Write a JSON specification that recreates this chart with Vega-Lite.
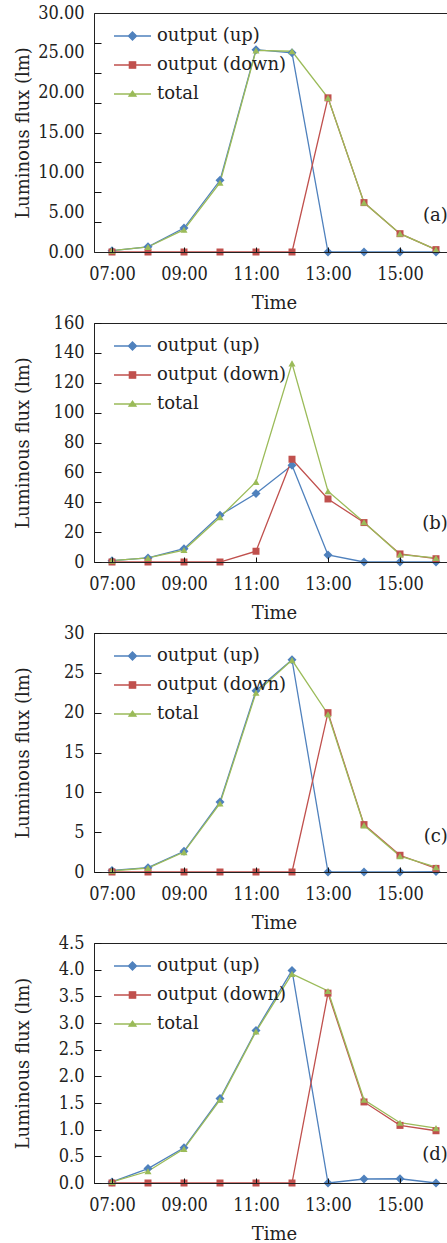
{
  "$schema": "https://vega.github.io/schema/vega-lite/v6.json",
  "autosize": {"type": "pad"},
  "padding": {"left": 13, "top": 3, "right": 0, "bottom": 0},
  "spacing": 0,
  "datasets": {
    "a": [
      {"time": 7, "series": "output (up)", "value": 0.17},
      {"time": 8, "series": "output (up)", "value": 0.65},
      {"time": 9, "series": "output (up)", "value": 3.0},
      {"time": 10, "series": "output (up)", "value": 9.0},
      {"time": 11, "series": "output (up)", "value": 25.4},
      {"time": 12, "series": "output (up)", "value": 25.0},
      {"time": 13, "series": "output (up)", "value": 0},
      {"time": 14, "series": "output (up)", "value": 0},
      {"time": 15, "series": "output (up)", "value": 0},
      {"time": 16, "series": "output (up)", "value": 0},
      {"time": 7, "series": "output (down)", "value": 0},
      {"time": 8, "series": "output (down)", "value": 0},
      {"time": 9, "series": "output (down)", "value": 0},
      {"time": 10, "series": "output (down)", "value": 0},
      {"time": 11, "series": "output (down)", "value": 0},
      {"time": 12, "series": "output (down)", "value": 0},
      {"time": 13, "series": "output (down)", "value": 19.35},
      {"time": 14, "series": "output (down)", "value": 6.2},
      {"time": 15, "series": "output (down)", "value": 2.3},
      {"time": 16, "series": "output (down)", "value": 0.3},
      {"time": 7, "series": "total", "value": 0.17},
      {"time": 8, "series": "total", "value": 0.63},
      {"time": 9, "series": "total", "value": 2.8},
      {"time": 10, "series": "total", "value": 8.7},
      {"time": 11, "series": "total", "value": 25.3},
      {"time": 12, "series": "total", "value": 25.2},
      {"time": 13, "series": "total", "value": 19.35},
      {"time": 14, "series": "total", "value": 6.2},
      {"time": 15, "series": "total", "value": 2.3},
      {"time": 16, "series": "total", "value": 0.3}
    ],
    "b": [
      {"time": 7, "series": "output (up)", "value": 0.9},
      {"time": 8, "series": "output (up)", "value": 2.7},
      {"time": 9, "series": "output (up)", "value": 8.9},
      {"time": 10, "series": "output (up)", "value": 31.3},
      {"time": 11, "series": "output (up)", "value": 45.8},
      {"time": 12, "series": "output (up)", "value": 64.8},
      {"time": 13, "series": "output (up)", "value": 4.7},
      {"time": 14, "series": "output (up)", "value": 0},
      {"time": 15, "series": "output (up)", "value": 0},
      {"time": 16, "series": "output (up)", "value": 0},
      {"time": 7, "series": "output (down)", "value": 0},
      {"time": 8, "series": "output (down)", "value": 0},
      {"time": 9, "series": "output (down)", "value": 0},
      {"time": 10, "series": "output (down)", "value": 0},
      {"time": 11, "series": "output (down)", "value": 7.2},
      {"time": 12, "series": "output (down)", "value": 68.8},
      {"time": 13, "series": "output (down)", "value": 42.2},
      {"time": 14, "series": "output (down)", "value": 26.4},
      {"time": 15, "series": "output (down)", "value": 5.4},
      {"time": 16, "series": "output (down)", "value": 2.2},
      {"time": 7, "series": "total", "value": 0.9},
      {"time": 8, "series": "total", "value": 2.7},
      {"time": 9, "series": "total", "value": 8.0},
      {"time": 10, "series": "total", "value": 30.0},
      {"time": 11, "series": "total", "value": 53.6},
      {"time": 12, "series": "total", "value": 133.0},
      {"time": 13, "series": "total", "value": 47.4},
      {"time": 14, "series": "total", "value": 26.6},
      {"time": 15, "series": "total", "value": 5.0},
      {"time": 16, "series": "total", "value": 2.7}
    ],
    "c": [
      {"time": 7, "series": "output (up)", "value": 0.2},
      {"time": 8, "series": "output (up)", "value": 0.54},
      {"time": 9, "series": "output (up)", "value": 2.6},
      {"time": 10, "series": "output (up)", "value": 8.8},
      {"time": 11, "series": "output (up)", "value": 22.76},
      {"time": 12, "series": "output (up)", "value": 26.65},
      {"time": 13, "series": "output (up)", "value": 0},
      {"time": 14, "series": "output (up)", "value": 0},
      {"time": 15, "series": "output (up)", "value": 0},
      {"time": 16, "series": "output (up)", "value": 0.05},
      {"time": 7, "series": "output (down)", "value": 0},
      {"time": 8, "series": "output (down)", "value": 0},
      {"time": 9, "series": "output (down)", "value": 0},
      {"time": 10, "series": "output (down)", "value": 0},
      {"time": 11, "series": "output (down)", "value": 0},
      {"time": 12, "series": "output (down)", "value": 0},
      {"time": 13, "series": "output (down)", "value": 20.0},
      {"time": 14, "series": "output (down)", "value": 5.95},
      {"time": 15, "series": "output (down)", "value": 2.1},
      {"time": 16, "series": "output (down)", "value": 0.45},
      {"time": 7, "series": "total", "value": 0.15},
      {"time": 8, "series": "total", "value": 0.5},
      {"time": 9, "series": "total", "value": 2.5},
      {"time": 10, "series": "total", "value": 8.6},
      {"time": 11, "series": "total", "value": 22.5},
      {"time": 12, "series": "total", "value": 26.6},
      {"time": 13, "series": "total", "value": 19.8},
      {"time": 14, "series": "total", "value": 5.86},
      {"time": 15, "series": "total", "value": 2.0},
      {"time": 16, "series": "total", "value": 0.6}
    ],
    "d": [
      {"time": 7, "series": "output (up)", "value": 0.02},
      {"time": 8, "series": "output (up)", "value": 0.27},
      {"time": 9, "series": "output (up)", "value": 0.66},
      {"time": 10, "series": "output (up)", "value": 1.585},
      {"time": 11, "series": "output (up)", "value": 2.86},
      {"time": 12, "series": "output (up)", "value": 3.985},
      {"time": 13, "series": "output (up)", "value": 0},
      {"time": 14, "series": "output (up)", "value": 0.075},
      {"time": 15, "series": "output (up)", "value": 0.08},
      {"time": 16, "series": "output (up)", "value": 0},
      {"time": 7, "series": "output (down)", "value": 0},
      {"time": 8, "series": "output (down)", "value": 0},
      {"time": 9, "series": "output (down)", "value": 0},
      {"time": 10, "series": "output (down)", "value": 0},
      {"time": 11, "series": "output (down)", "value": 0},
      {"time": 12, "series": "output (down)", "value": 0},
      {"time": 13, "series": "output (down)", "value": 3.56},
      {"time": 14, "series": "output (down)", "value": 1.52},
      {"time": 15, "series": "output (down)", "value": 1.08},
      {"time": 16, "series": "output (down)", "value": 0.98},
      {"time": 7, "series": "total", "value": 0.02},
      {"time": 8, "series": "total", "value": 0.22},
      {"time": 9, "series": "total", "value": 0.64},
      {"time": 10, "series": "total", "value": 1.56},
      {"time": 11, "series": "total", "value": 2.84},
      {"time": 12, "series": "total", "value": 3.92},
      {"time": 13, "series": "total", "value": 3.6},
      {"time": 14, "series": "total", "value": 1.56},
      {"time": 15, "series": "total", "value": 1.13},
      {"time": 16, "series": "total", "value": 1.03}
    ]
  },
  "vconcat": [
    {
      "width": 360, "height": 239,
      "data": {"name": "a"},
      "resolve": {"axis": {"y": "independent"}},
      "layer": [
        {
          "mark": {"type": "line", "strokeWidth": 1.3},
          "encoding": {
            "x": {"field": "time", "type": "quantitative", "scale": {"domain": [6.5, 16.5], "nice": false}, "axis": {"title": "Time", "values": [7, 9, 11, 13, 15], "labelExpr": "(datum.value < 10 ? '0' : '') + datum.value + ':00'", "tickSize": -5, "labelPadding": 18, "titlePadding": 11, "zindex": 1}},
            "y": {"field": "value", "type": "quantitative", "scale": {"domain": [0, 30], "nice": false}, "axis": {"title": "Luminous flux (lm)", "values": [0, 5, 10, 15, 20, 25, 30], "format": ".2f", "ticks": false, "labelPadding": 10, "labelOverlap": false}},
            "color": {"field": "series", "type": "nominal", "scale": {"domain": ["output (up)", "output (down)", "total"], "range": ["#4F81BD", "#C0504D", "#9BBB59"]},
              "legend": {"title": null, "rowPadding": -10, "encode": {"symbols": {"update": {
                "shape": {"signal": "datum.value === 'output (up)' ? 'M-1,0H1M0,-0.22L0.22,0L0,0.22L-0.22,0Z' : datum.value === 'output (down)' ? 'M-1,0H1M-0.17,-0.17H0.17V0.17H-0.17Z' : 'M-1,0H1M0,-0.16L0.19,0.12L-0.19,0.12Z'"},
                "size": {"value": 1369},
                "fill": {"signal": "datum.value === 'output (up)' ? '#4F81BD' : datum.value === 'output (down)' ? '#C0504D' : '#9BBB59'"},
                "stroke": {"signal": "datum.value === 'output (up)' ? '#4F81BD' : datum.value === 'output (down)' ? '#C0504D' : '#9BBB59'"},
                "strokeWidth": {"value": 1.3}, "opacity": {"value": 1}, "fillOpacity": {"value": 1}, "strokeOpacity": {"value": 1}}}}}}
          }
        },
        {
          "transform": [{"filter": "datum.series === 'output (up)'"}],
          "mark": {"type": "point", "filled": true, "opacity": 1, "shape": "diamond", "size": 81, "color": "#4F81BD"},
          "encoding": {"x": {"field": "time", "type": "quantitative"}, "y": {"field": "value", "type": "quantitative", "axis": null}}
        },
        {
          "transform": [{"filter": "datum.series === 'output (down)'"}],
          "mark": {"type": "point", "filled": true, "opacity": 1, "shape": "square", "size": 49, "color": "#C0504D"},
          "encoding": {"x": {"field": "time", "type": "quantitative"}, "y": {"field": "value", "type": "quantitative", "axis": null}}
        },
        {
          "transform": [{"filter": "datum.series === 'total'"}],
          "mark": {"type": "point", "filled": true, "opacity": 1, "shape": "triangle-up", "size": 50, "color": "#9BBB59"},
          "encoding": {"x": {"field": "time", "type": "quantitative"}, "y": {"field": "value", "type": "quantitative", "axis": null}}
        },
        {
          "data": {"values": [{"label": "(a)"}]},
          "mark": {"type": "text", "align": "right", "baseline": "middle"},
          "encoding": {
            "x": {"datum": 16.33, "type": "quantitative"},
            "y": {"datum": 4.5, "type": "quantitative", "axis": {"orient": "left", "title": null, "values": [3.75, 7.5, 11.25, 15, 18.75, 22.5, 26.25], "labels": false, "domain": false, "tickSize": -7, "zindex": 1}},
            "text": {"field": "label"}
          }
        }
      ]
    },
    {
      "width": 360, "height": 239,
      "data": {"name": "b"},
      "resolve": {"axis": {"y": "independent"}},
      "layer": [
        {
          "mark": {"type": "line", "strokeWidth": 1.3},
          "encoding": {
            "x": {"field": "time", "type": "quantitative", "scale": {"domain": [6.5, 16.5], "nice": false}, "axis": {"title": "Time", "values": [7, 9, 11, 13, 15], "labelExpr": "(datum.value < 10 ? '0' : '') + datum.value + ':00'", "tickSize": -5, "labelPadding": 18, "titlePadding": 11, "zindex": 1}},
            "y": {"field": "value", "type": "quantitative", "scale": {"domain": [0, 160], "nice": false}, "axis": {"title": "Luminous flux (lm)", "values": [0, 20, 40, 60, 80, 100, 120, 140, 160], "format": "d", "tickSize": -7, "labelPadding": 17, "labelOverlap": false, "zindex": 1}},
            "color": {"field": "series", "type": "nominal", "scale": {"domain": ["output (up)", "output (down)", "total"], "range": ["#4F81BD", "#C0504D", "#9BBB59"]},
              "legend": {"title": null, "rowPadding": -10, "encode": {"symbols": {"update": {
                "shape": {"signal": "datum.value === 'output (up)' ? 'M-1,0H1M0,-0.22L0.22,0L0,0.22L-0.22,0Z' : datum.value === 'output (down)' ? 'M-1,0H1M-0.17,-0.17H0.17V0.17H-0.17Z' : 'M-1,0H1M0,-0.16L0.19,0.12L-0.19,0.12Z'"},
                "size": {"value": 1369},
                "fill": {"signal": "datum.value === 'output (up)' ? '#4F81BD' : datum.value === 'output (down)' ? '#C0504D' : '#9BBB59'"},
                "stroke": {"signal": "datum.value === 'output (up)' ? '#4F81BD' : datum.value === 'output (down)' ? '#C0504D' : '#9BBB59'"},
                "strokeWidth": {"value": 1.3}, "opacity": {"value": 1}, "fillOpacity": {"value": 1}, "strokeOpacity": {"value": 1}}}}}}
          }
        },
        {
          "transform": [{"filter": "datum.series === 'output (up)'"}],
          "mark": {"type": "point", "filled": true, "opacity": 1, "shape": "diamond", "size": 81, "color": "#4F81BD"},
          "encoding": {"x": {"field": "time", "type": "quantitative"}, "y": {"field": "value", "type": "quantitative", "axis": null}}
        },
        {
          "transform": [{"filter": "datum.series === 'output (down)'"}],
          "mark": {"type": "point", "filled": true, "opacity": 1, "shape": "square", "size": 49, "color": "#C0504D"},
          "encoding": {"x": {"field": "time", "type": "quantitative"}, "y": {"field": "value", "type": "quantitative", "axis": null}}
        },
        {
          "transform": [{"filter": "datum.series === 'total'"}],
          "mark": {"type": "point", "filled": true, "opacity": 1, "shape": "triangle-up", "size": 50, "color": "#9BBB59"},
          "encoding": {"x": {"field": "time", "type": "quantitative"}, "y": {"field": "value", "type": "quantitative", "axis": null}}
        },
        {
          "data": {"values": [{"label": "(b)"}]},
          "mark": {"type": "text", "align": "right", "baseline": "middle"},
          "encoding": {
            "x": {"datum": 16.33, "type": "quantitative"},
            "y": {"datum": 25.4, "type": "quantitative", "axis": null},
            "text": {"field": "label"}
          }
        }
      ]
    },
    {
      "width": 360, "height": 239,
      "data": {"name": "c"},
      "resolve": {"axis": {"y": "independent"}},
      "layer": [
        {
          "mark": {"type": "line", "strokeWidth": 1.3},
          "encoding": {
            "x": {"field": "time", "type": "quantitative", "scale": {"domain": [6.5, 16.5], "nice": false}, "axis": {"title": "Time", "values": [7, 9, 11, 13, 15], "labelExpr": "(datum.value < 10 ? '0' : '') + datum.value + ':00'", "tickSize": -5, "labelPadding": 18, "titlePadding": 11, "zindex": 1}},
            "y": {"field": "value", "type": "quantitative", "scale": {"domain": [0, 30], "nice": false}, "axis": {"title": "Luminous flux (lm)", "values": [0, 5, 10, 15, 20, 25, 30], "format": "d", "tickSize": -7, "labelPadding": 17, "labelOverlap": false, "zindex": 1}},
            "color": {"field": "series", "type": "nominal", "scale": {"domain": ["output (up)", "output (down)", "total"], "range": ["#4F81BD", "#C0504D", "#9BBB59"]},
              "legend": {"title": null, "rowPadding": -10, "encode": {"symbols": {"update": {
                "shape": {"signal": "datum.value === 'output (up)' ? 'M-1,0H1M0,-0.22L0.22,0L0,0.22L-0.22,0Z' : datum.value === 'output (down)' ? 'M-1,0H1M-0.17,-0.17H0.17V0.17H-0.17Z' : 'M-1,0H1M0,-0.16L0.19,0.12L-0.19,0.12Z'"},
                "size": {"value": 1369},
                "fill": {"signal": "datum.value === 'output (up)' ? '#4F81BD' : datum.value === 'output (down)' ? '#C0504D' : '#9BBB59'"},
                "stroke": {"signal": "datum.value === 'output (up)' ? '#4F81BD' : datum.value === 'output (down)' ? '#C0504D' : '#9BBB59'"},
                "strokeWidth": {"value": 1.3}, "opacity": {"value": 1}, "fillOpacity": {"value": 1}, "strokeOpacity": {"value": 1}}}}}}
          }
        },
        {
          "transform": [{"filter": "datum.series === 'output (up)'"}],
          "mark": {"type": "point", "filled": true, "opacity": 1, "shape": "diamond", "size": 81, "color": "#4F81BD"},
          "encoding": {"x": {"field": "time", "type": "quantitative"}, "y": {"field": "value", "type": "quantitative", "axis": null}}
        },
        {
          "transform": [{"filter": "datum.series === 'output (down)'"}],
          "mark": {"type": "point", "filled": true, "opacity": 1, "shape": "square", "size": 49, "color": "#C0504D"},
          "encoding": {"x": {"field": "time", "type": "quantitative"}, "y": {"field": "value", "type": "quantitative", "axis": null}}
        },
        {
          "transform": [{"filter": "datum.series === 'total'"}],
          "mark": {"type": "point", "filled": true, "opacity": 1, "shape": "triangle-up", "size": 50, "color": "#9BBB59"},
          "encoding": {"x": {"field": "time", "type": "quantitative"}, "y": {"field": "value", "type": "quantitative", "axis": null}}
        },
        {
          "data": {"values": [{"label": "(c)"}]},
          "mark": {"type": "text", "align": "right", "baseline": "middle"},
          "encoding": {
            "x": {"datum": 16.33, "type": "quantitative"},
            "y": {"datum": 4.4, "type": "quantitative", "axis": null},
            "text": {"field": "label"}
          }
        }
      ]
    },
    {
      "width": 360, "height": 240,
      "data": {"name": "d"},
      "resolve": {"axis": {"y": "independent"}},
      "layer": [
        {
          "mark": {"type": "line", "strokeWidth": 1.3},
          "encoding": {
            "x": {"field": "time", "type": "quantitative", "scale": {"domain": [6.5, 16.5], "nice": false}, "axis": {"title": "Time", "values": [7, 9, 11, 13, 15], "labelExpr": "(datum.value < 10 ? '0' : '') + datum.value + ':00'", "tickSize": -5, "labelPadding": 18, "titlePadding": 11, "zindex": 1}},
            "y": {"field": "value", "type": "quantitative", "scale": {"domain": [0, 4.5], "nice": false}, "axis": {"title": "Luminous flux (lm)", "values": [0, 0.5, 1, 1.5, 2, 2.5, 3, 3.5, 4, 4.5], "format": ".1f", "tickSize": -7, "labelPadding": 17, "labelOverlap": false, "zindex": 1}},
            "color": {"field": "series", "type": "nominal", "scale": {"domain": ["output (up)", "output (down)", "total"], "range": ["#4F81BD", "#C0504D", "#9BBB59"]},
              "legend": {"title": null, "rowPadding": -10, "encode": {"symbols": {"update": {
                "shape": {"signal": "datum.value === 'output (up)' ? 'M-1,0H1M0,-0.22L0.22,0L0,0.22L-0.22,0Z' : datum.value === 'output (down)' ? 'M-1,0H1M-0.17,-0.17H0.17V0.17H-0.17Z' : 'M-1,0H1M0,-0.16L0.19,0.12L-0.19,0.12Z'"},
                "size": {"value": 1369},
                "fill": {"signal": "datum.value === 'output (up)' ? '#4F81BD' : datum.value === 'output (down)' ? '#C0504D' : '#9BBB59'"},
                "stroke": {"signal": "datum.value === 'output (up)' ? '#4F81BD' : datum.value === 'output (down)' ? '#C0504D' : '#9BBB59'"},
                "strokeWidth": {"value": 1.3}, "opacity": {"value": 1}, "fillOpacity": {"value": 1}, "strokeOpacity": {"value": 1}}}}}}
          }
        },
        {
          "transform": [{"filter": "datum.series === 'output (up)'"}],
          "mark": {"type": "point", "filled": true, "opacity": 1, "shape": "diamond", "size": 81, "color": "#4F81BD"},
          "encoding": {"x": {"field": "time", "type": "quantitative"}, "y": {"field": "value", "type": "quantitative", "axis": null}}
        },
        {
          "transform": [{"filter": "datum.series === 'output (down)'"}],
          "mark": {"type": "point", "filled": true, "opacity": 1, "shape": "square", "size": 49, "color": "#C0504D"},
          "encoding": {"x": {"field": "time", "type": "quantitative"}, "y": {"field": "value", "type": "quantitative", "axis": null}}
        },
        {
          "transform": [{"filter": "datum.series === 'total'"}],
          "mark": {"type": "point", "filled": true, "opacity": 1, "shape": "triangle-up", "size": 50, "color": "#9BBB59"},
          "encoding": {"x": {"field": "time", "type": "quantitative"}, "y": {"field": "value", "type": "quantitative", "axis": null}}
        },
        {
          "data": {"values": [{"label": "(d)"}]},
          "mark": {"type": "text", "align": "right", "baseline": "middle"},
          "encoding": {
            "x": {"datum": 16.33, "type": "quantitative"},
            "y": {"datum": 0.525, "type": "quantitative", "axis": null},
            "text": {"field": "label"}
          }
        }
      ]
    }
  ],
  "resolve": {"legend": {"color": "independent"}, "scale": {"color": "independent"}},
  "config": {
    "font": "DejaVu Serif",
    "view": {"stroke": "#222", "strokeWidth": 1},
    "axis": {"grid": false, "labelOverlap": false, "labelFont": "DejaVu Serif Condensed, DejaVu Serif", "labelFontSize": 18, "labelColor": "#222", "titleFont": "DejaVu Serif", "titleFontSize": 18, "titleFontWeight": "normal", "titleColor": "#222", "domainColor": "#222", "tickColor": "#111", "tickWidth": 1},
    "axisY": {"titleX": -66, "titleBaseline": "alphabetic"},
    "text": {"font": "DejaVu Serif", "fontSize": 18, "color": "#222"},
    "legend": {"orient": "none", "legendX": 19, "legendY": 3.5, "symbolSize": 1369, "labelOffset": 5, "labelFont": "DejaVu Serif", "labelFontSize": 18, "labelColor": "#222", "padding": 0}
  }
}
